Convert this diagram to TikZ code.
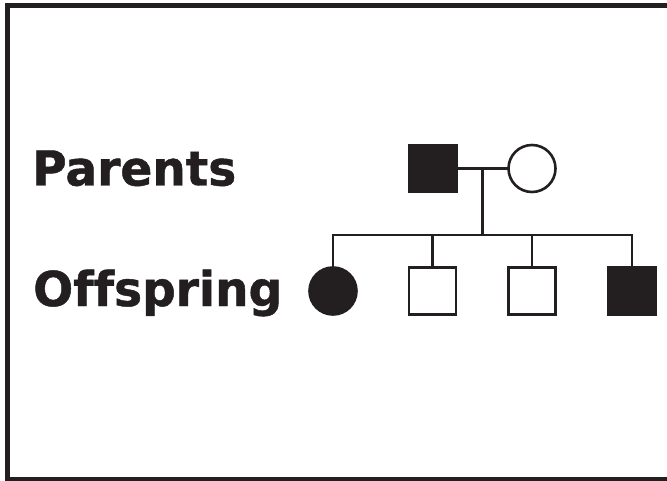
\documentclass[tikz,border=0pt]{standalone}
\usepackage{fontspec}
\newfontfamily\labfont[Ligatures=NoCommon,FakeBold=1,FakeStretch=0.98]{DejaVu Sans Bold}
\definecolor{ink}{HTML}{231F20}
\begin{document}
\begin{tikzpicture}[x=1pt,y=-1pt,
  person/.style={draw=ink,line width=2.6pt,minimum size=47pt,inner sep=0pt,outer sep=0pt},
  male/.style={person,rectangle},
  female/.style={person,circle},
  affected/.style={fill=ink},
  link/.style={draw=ink,line width=2.6pt},
  lab/.style={text=ink,anchor=base west,inner sep=0pt,font=\labfont\fontsize{48}{50}\selectfont}]
\useasboundingbox (0,0) rectangle (667,481);
\clip (0,0) rectangle (667,481);
\draw[ink,line width=5.3pt] (7.7,5.8) rectangle (720,480);
\node[lab] (parents) at (32,185.5) {Parents};
\node[lab] (offspring) at (33,306) {Offspring};
\node[male,affected] (father) at (433,168.5) {};
\node[female] (mother) at (532,168.5) {};
\node[female,affected] (c1) at (333,291) {};
\node[male] (c2) at (432.5,291) {};
\node[male] (c3) at (532,291) {};
\node[male,affected] (c4) at (632,291) {};
\coordinate (m) at (482.3,168.5);
\coordinate (sib) at (482.3,235);
\draw[link] (father.east) -- (mother.west);
\draw[link] (m) -- (sib);
\coordinate (s1) at (c1 |- sib);
\coordinate (s2) at (c2 |- sib);
\coordinate (s3) at (c3 |- sib);
\coordinate (s4) at (c4 |- sib);
\draw[link] ([xshift=-1.3pt]s1) -- ([xshift=1.3pt]s4);
\draw[link] (s1) -- (c1.north);
\draw[link] (s2) -- (c2.north);
\draw[link] (s3) -- (c3.north);
\draw[link] (s4) -- (c4.north);
\end{tikzpicture}
\end{document}
